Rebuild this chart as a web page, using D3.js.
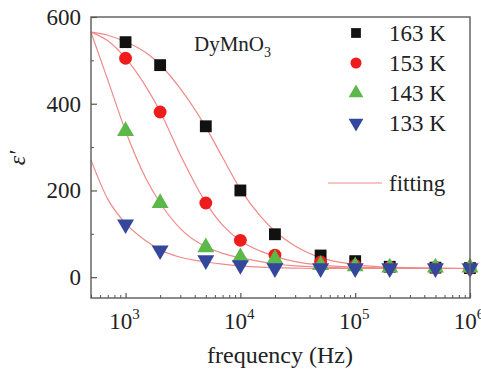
<!DOCTYPE html>
<html lang="en">
<head>
<meta charset="utf-8">
<title>DyMnO3 permittivity vs frequency</title>
<script src="https://cdn.jsdelivr.net/npm/d3@7"></script>
<style>
  body { margin: 0; background: #fff; }
  text { font-family: "Liberation Serif", "Times New Roman", serif; fill: #222; }
</style>
</head>
<body>
<script>
// measured points (Hz, ε')
var freqs = [1e3, 2e3, 5e3, 1e4, 2e4, 5e4, 1e5, 2e5, 5e5, 1e6];
var eps163 = [542, 489, 348, 200, 99, 50, 37, 24, 22, 21];
var eps153 = [505, 381, 171, 85, 51, 35, 27, 23, 22, 21];
var eps143 = [337, 171, 69, 46, 42, 28, 25, 22, 22, 22];
var eps133 = [122, 62, 39, 28, 21, 21, 21, 21, 21, 21];

// fitting curves
var fitFreqs = [500, 700, 1000, 1500, 2000, 3000, 5000, 7000, 1e4, 1.5e4, 2e4, 3e4, 5e4, 1e5, 2e5, 1e6];
var fit163 = [565, 558, 543, 518, 490, 435, 346, 276, 203, 140, 106, 72, 45, 29, 23, 20];
var fit153 = [565, 545, 505, 440, 382, 282, 172, 120, 84, 60, 48, 36, 28, 23, 21, 20];
var fit143 = [565, 455, 337, 228, 171, 112, 70, 55, 45, 36, 31, 26, 23, 21, 20, 20];
var fit133 = [270, 180, 124, 84, 63, 46, 35, 30, 26, 23, 22, 21, 20, 20, 20, 20];

var labels = ["163 K", "153 K", "143 K", "133 K"];
var colors = ["#111111", "#ee1c1c", "#5db84a", "#34479c"];
var shapes = [d3.symbolSquare, d3.symbolCircle, d3.symbolTriangle, "down"];
var yTicks = [0, 200, 400, 600];
var yMinor = [100, 300, 500];
var xTicks = [1e3, 1e4, 1e5, 1e6];

var w = 481, h = 376;
var plotL = 91, plotR = 470, plotT = 17, plotB = 298;
var fitColor = "#f08a8a";

var svg = d3.select("body").append("svg")
    .attr("width", w)
    .attr("height", h);

var x = d3.scaleLog().domain([500, 1e6]).range([plotL, plotR]);
var y = d3.scaleLinear().domain([-48, 600]).range([plotB, plotT]);

// fitting curves
var fits = [fit163, fit153, fit143, fit133];
var line = d3.line()
    .x(function(d) { return x(d[0]); })
    .y(function(d) { return y(d[1]); })
    .curve(d3.curveMonotoneX);
fits.forEach(function(f) {
  svg.append("path")
    .datum(fitFreqs.map(function(fr, i) { return [fr, f[i]]; }))
    .attr("d", line)
    .attr("fill", "none")
    .attr("stroke", fitColor)
    .attr("stroke-width", 1.2);
});

function symbolPath(s, size) {
  if (s === "down") {
    return d3.symbol().type(d3.symbolTriangle).size(size)();
  }
  return d3.symbol().type(s).size(size)();
}
var sizes = [140, 130, 125, 125];

// data points
var series = [eps163, eps153, eps143, eps133];
series.forEach(function(vals, k) {
  svg.append("g").selectAll("path")
    .data(vals)
    .enter()
    .append("path")
    .attr("d", symbolPath(shapes[k], sizes[k]))
    .attr("transform", function(d, i) {
      var t = "translate(" + x(freqs[i]) + "," + y(d) + ")";
      if (shapes[k] === "down") t += " rotate(180)";
      return t;
    })
    .attr("fill", colors[k]);
});

// frame
svg.append("rect")
  .attr("x", plotL).attr("y", plotT)
  .attr("width", plotR - plotL).attr("height", plotB - plotT)
  .attr("fill", "none")
  .attr("stroke", "#666")
  .attr("stroke-width", 1.5);

// y axis
var yAxis = d3.axisLeft(y).tickValues(yTicks).tickSize(-6).tickPadding(10);
var gy = svg.append("g").attr("transform", "translate(" + plotL + ",0)").call(yAxis);
gy.select(".domain").remove();
gy.selectAll(".tick line").attr("stroke", "#555").attr("stroke-width", 1.2);
gy.selectAll("text").attr("font-size", "23px").attr("fill", "#222");
var gyMinor = svg.append("g").attr("transform", "translate(" + plotL + ",0)")
  .call(d3.axisLeft(y).tickValues(yMinor).tickSize(-3).tickFormat(""));
gyMinor.select(".domain").remove();
gyMinor.selectAll(".tick line").attr("stroke", "#555");

// x axis
var minors = [];
[100, 1e3, 1e4, 1e5].forEach(function(dec) {
  for (var m = 2; m <= 9; m++) {
    var v = dec * m;
    if (v >= 500 && v < 1e6) minors.push(v);
  }
});
var gx = svg.append("g").attr("transform", "translate(0," + plotB + ")")
  .call(d3.axisBottom(x).tickValues(xTicks).tickSize(-5).tickFormat(""));
gx.select(".domain").remove();
gx.selectAll(".tick line").attr("stroke", "#555").attr("stroke-width", 1.2);
var gxMinor = svg.append("g").attr("transform", "translate(0," + plotB + ")")
  .call(d3.axisBottom(x).tickValues(minors).tickSize(-3).tickFormat(""));
gxMinor.select(".domain").remove();
gxMinor.selectAll(".tick line").attr("stroke", "#555");

xTicks.forEach(function(v) {
  var t = svg.append("text")
    .attr("x", x(v) - 1)
    .attr("y", 329)
    .attr("text-anchor", "middle")
    .attr("font-size", "23px");
  t.append("tspan").text("10");
  t.append("tspan").attr("dy", -10).attr("font-size", "15px").text(Math.round(Math.log10(v)));
});

// axis titles
svg.append("text")
  .attr("x", 280).attr("y", 363)
  .attr("text-anchor", "middle")
  .attr("font-size", "24px")
  .text("frequency (Hz)");

svg.append("text")
  .attr("transform", "translate(25,158) rotate(-90)")
  .attr("text-anchor", "middle")
  .attr("font-size", "24px")
  .attr("font-style", "italic")
  .text("ε′");

// compound name
var compound = svg.append("text")
  .attr("x", 194).attr("y", 51)
  .attr("font-size", "21px");
compound.append("tspan").text("DyMnO");
compound.append("tspan").attr("dy", 6).attr("font-size", "14px").text("3");

// legend
var legY = [33, 63, 93, 123];
labels.forEach(function(lab, k) {
  svg.append("path")
    .attr("d", symbolPath(shapes[k], 95))
    .attr("transform", "translate(356," + legY[k] + ")" + (shapes[k] === "down" ? " rotate(180)" : ""))
    .attr("fill", colors[k]);
  svg.append("text")
    .attr("x", 389).attr("y", legY[k] + 8)
    .attr("font-size", "23px")
    .text(lab);
});
svg.append("line")
  .attr("x1", 328).attr("x2", 382)
  .attr("y1", 183).attr("y2", 183)
  .attr("stroke", fitColor)
  .attr("stroke-width", 1.2);
svg.append("text")
  .attr("x", 389).attr("y", 191)
  .attr("font-size", "23px")
  .text("fitting");
</script>
</body>
</html>
